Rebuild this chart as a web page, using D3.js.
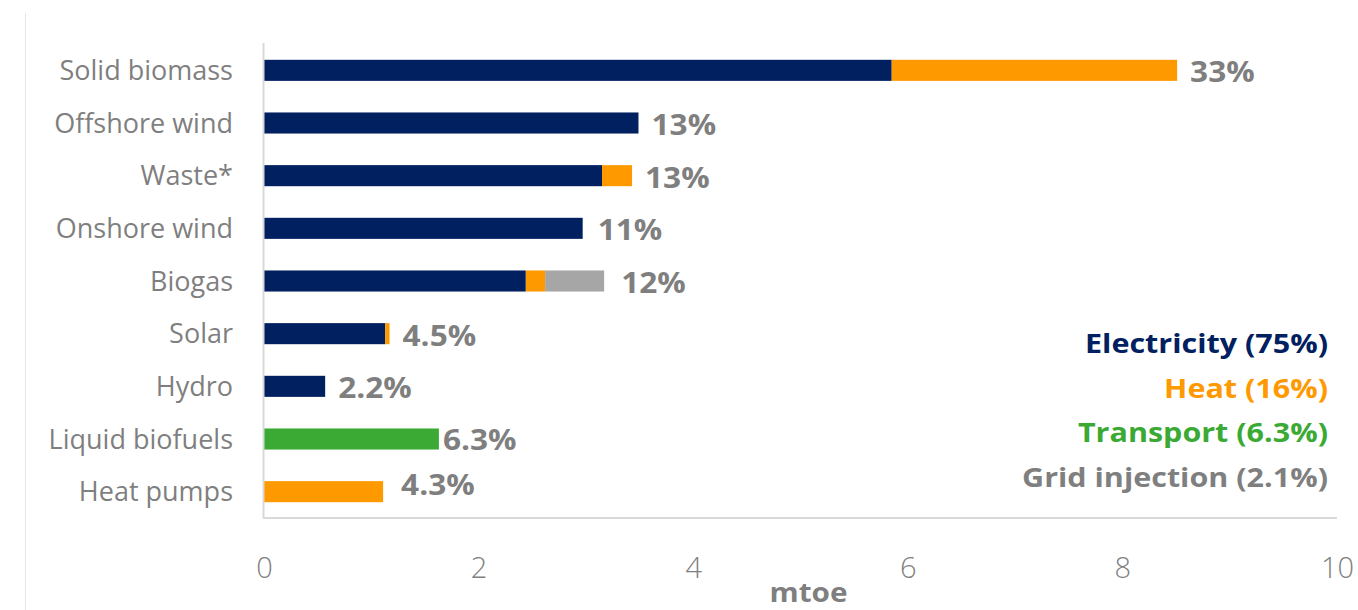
<!DOCTYPE html>
<html>
<head>
<meta charset="utf-8">
<script src="https://cdn.jsdelivr.net/npm/d3@7/dist/d3.min.js"></script>
<style>
  html, body { margin: 0; padding: 0; background: #fff; }
  svg { display: block; }
  text { font-family: "Open Sans", "Noto Sans", sans-serif; }
</style>
</head>
<body>
<svg id="chart" width="1358" height="610"></svg>
<script>
// Renewable energy by source, mtoe, split by end use
const categories = ["Solid biomass", "Offshore wind", "Waste*", "Onshore wind", "Biogas",
                    "Solar", "Hydro", "Liquid biofuels", "Heat pumps"];
const electricity = [5.85, 3.49, 3.15, 2.97, 2.44, 1.13, 0.57, 0, 0];
const heat        = [2.66, 0,    0.28, 0,    0.18, 0.04, 0,    0, 1.11];
const transport   = [0,    0,    0,    0,    0,    0,    0,    1.63, 0];
const grid        = [0,    0,    0,    0,    0.55, 0,    0,    0, 0];
const seriesNames = ["Electricity", "Heat", "Transport", "Grid injection"];
const xTicks = [0, 2, 4, 6, 8, 10];
const xTitle = "mtoe";

const colors = {
  "Electricity": "#002060",
  "Heat": "#ff9900",
  "Transport": "#3aaa35",
  "Grid injection": "#a6a6a6"
};
const legendText = {
  "Electricity": "#002060",
  "Heat": "#ff9900",
  "Transport": "#3aaa35",
  "Grid injection": "#7f7f7f"
};

const rows = categories.map((c, i) => ({
  category: c,
  "Electricity": electricity[i],
  "Heat": heat[i],
  "Transport": transport[i],
  "Grid injection": grid[i]
}));

const svg = d3.select("#chart");
const margin = { left: 264, right: 20, top: 44, bottom: 92 };
const W = 1358, H = 610;
const plotRight = 1337;
const plotBottom = H - margin.bottom;
const boldStretch = 1.13; // bold labels are set slightly wide

const x = d3.scaleLinear().domain([0, 10]).range([margin.left, plotRight]);
const y = d3.scaleBand().domain(categories).range([margin.top, plotBottom])
  .paddingInner(0.6).paddingOuter(0.3);

// faint page edge on the left
svg.append("line").attr("x1", 25.5).attr("x2", 25.5).attr("y1", 13).attr("y2", H)
  .attr("stroke", "#e6e6e6").attr("stroke-width", 1);

// stacked bars
const stack = d3.stack().keys(seriesNames)(rows);
svg.append("g").selectAll("g").data(stack).join("g")
  .attr("fill", d => colors[d.key])
  .selectAll("rect").data(d => d.filter(p => p[1] - p[0] > 0)).join("rect")
  .attr("x", d => x(d[0]))
  .attr("width", d => x(d[1]) - x(d[0]))
  .attr("y", d => y(d.data.category))
  .attr("height", y.bandwidth());

// axis frame
svg.append("line").attr("x1", margin.left - 0.5).attr("x2", margin.left - 0.5)
  .attr("y1", margin.top - 1).attr("y2", plotBottom)
  .attr("stroke", "#d9d9d9").attr("stroke-width", 2);
svg.append("line").attr("x1", margin.left - 1).attr("x2", plotRight)
  .attr("y1", plotBottom).attr("y2", plotBottom)
  .attr("stroke", "#d9d9d9").attr("stroke-width", 2);

// category axis
const yAxis = d3.axisLeft(y).tickSize(0).tickPadding(31);
const gy = svg.append("g").attr("transform", `translate(${margin.left},0)`).call(yAxis);
gy.select(".domain").remove();
gy.selectAll("text").attr("fill", "#7f7f7f").style("font-size", "27px")
  .attr("dy", "0.36em");

// value axis
const xAxis = d3.axisBottom(x).tickValues(xTicks).tickSize(0).tickPadding(0)
  .tickFormat(d3.format("d"));
const gx = svg.append("g").attr("transform", `translate(0,${plotBottom})`).call(xAxis);
gx.select(".domain").remove();
gx.selectAll("text").attr("fill", "#808080").style("font-size", "29px")
  .style("font-weight", 300).attr("y", 60).attr("dy", 0);

svg.append("text")
  .attr("transform", `translate(${(x(0) + x(10)) / 2 + 8},602) scale(1.1,1)`)
  .attr("text-anchor", "middle").attr("fill", "#7f7f7f")
  .style("font-size", "27px").style("font-weight", 700).text(xTitle);

// share labels at the end of each bar
const grand = d3.sum(rows, r => d3.sum(seriesNames, k => r[k]));
const fmtShare = v => (v >= 10 ? d3.format(".0f")(v) : d3.format(".1f")(v)) + "%";
const nudge = { "Onshore wind": [2, 0], "Biogas": [4, 0], "Liquid biofuels": [-9, -1], "Heat pumps": [5, -9] };
svg.append("g").selectAll("text").data(rows).join("text")
  .attr("transform", r => {
    const n = nudge[r.category] || [0, 0];
    const tx = x(d3.sum(seriesNames, k => r[k])) + 13 + n[0];
    const ty = y(r.category) + y.bandwidth() / 2 + 12 + n[1];
    return `translate(${tx},${ty}) scale(${boldStretch},1)`;
  })
  .attr("fill", "#7f7f7f").style("font-size", "28px").style("font-weight", 700)
  .text(r => fmtShare(100 * d3.sum(seriesNames, k => r[k]) / grand));

// legend with totals per end use
svg.append("g").selectAll("text").data(seriesNames).join("text")
  .attr("transform", (d, i) => `translate(1328,${353 + i * 44.7}) scale(${boldStretch},1)`)
  .attr("text-anchor", "end").attr("fill", d => legendText[d])
  .style("font-size", "27px").style("font-weight", 700)
  .text(k => `${k} (${fmtShare(100 * d3.sum(rows, r => r[k]) / grand)})`);
</script>
</body>
</html>
